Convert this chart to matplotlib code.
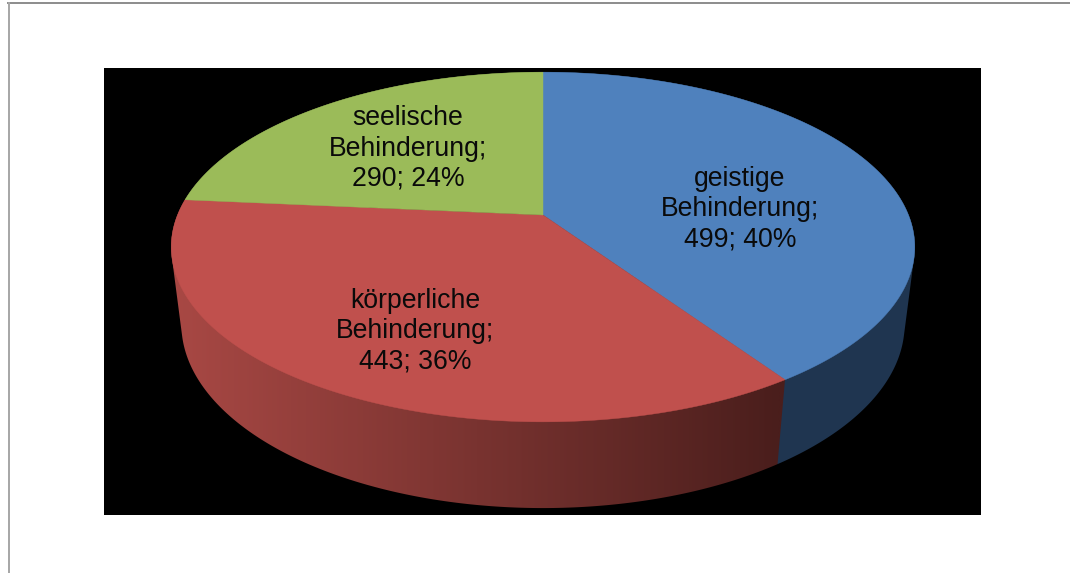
import numpy as np
import matplotlib
matplotlib.use("Agg")
import matplotlib.pyplot as plt
from matplotlib.lines import Line2D
from matplotlib.patches import Polygon
from matplotlib.colors import LinearSegmentedColormap

plt.rcParams['font.family'] = ['Liberation Sans', 'DejaVu Sans']

categories = ["geistige\nBehinderung;", "körperliche\nBehinderung;", "seelische\nBehinderung;"]
values = [499, 443, 290]
percents = [40, 36, 24]
top_colors = ["#4F81BD", "#C0504D", "#9BBB59"]
wall_colors = ["#1F3550", "#A84844", "#5A6E34"]
wall_dark = ["#1F3550", "#4A1E1C", "#5A6E34"]
label_centres = [(740, 209.5), (415, 331.5), (408, 148.5)]

W, H = 1070, 573
CX, CY = 543.0, 215.0
A, B, K = 365.5, 169.0, 0.183
D, M = 78.4, 0.02716


def project(theta, depth=0.0):
    u = np.sin(theta)
    v = -np.cos(theta)
    w = 1 - K * v + M * depth
    return CX + A * u / w, CY + (B * v + D * depth) / w


def convex_hull(points):
    pts = sorted(set(map(tuple, points)))

    def half(seq):
        out = []
        for p in seq:
            while len(out) >= 2 and ((out[-1][0] - out[-2][0]) * (p[1] - out[-2][1])
                                     - (out[-1][1] - out[-2][1]) * (p[0] - out[-2][0])) <= 0:
                out.pop()
            out.append(p)
        return out[:-1]

    return np.array(half(pts) + half(pts[::-1]))


fig = plt.figure(figsize=(W / 100, H / 100), dpi=100, facecolor="white")
ax = fig.add_axes([104 / W, 1 - 515 / H, (981 - 104) / W, (515 - 68) / H])
ax.set_facecolor("black")
ax.set_xticks([])
ax.set_yticks([])
for s in ax.spines.values():
    s.set_visible(False)

edges = np.concatenate([[0], np.cumsum(values)]) / np.sum(values) * 2 * np.pi

# side wall: back slice first, then blue, then the red front slice
for i in (2, 0, 1):
    th = np.linspace(edges[i], edges[i + 1], 400)
    xt, yt = project(th)
    xb, yb = project(th, 1)
    outline = convex_hull(np.c_[np.r_[xt, xb], np.r_[yt, yb]])
    if wall_colors[i] == wall_dark[i]:
        ax.add_patch(Polygon(outline, closed=True, facecolor=wall_colors[i],
                             edgecolor="none", zorder=2 + i * 0.1))
    else:
        cmap = LinearSegmentedColormap.from_list("w", [wall_colors[i], wall_dark[i]])
        band = Polygon(outline, closed=True, facecolor="none", edgecolor="none",
                       zorder=2 + i * 0.1)
        ax.add_patch(band)
        shade = np.clip((np.linspace(104, 981, 512) - 175) / (780 - 175), 0, 1)
        im = ax.imshow(shade[None, :], cmap=cmap, vmin=0, vmax=1, aspect="auto",
                       extent=(104, 981, 515, 68), zorder=2 + i * 0.1,
                       interpolation="bilinear")
        im.set_clip_path(band)

# top surface
for i in range(len(values)):
    th = np.linspace(edges[i], edges[i + 1], 400)
    xs, ys = project(th)
    ax.fill(np.r_[CX, xs], np.r_[CY, ys], color=top_colors[i], lw=0.3, zorder=3)

ax.set_xlim(104, 981)
ax.set_ylim(515, 68)

# labels
for cat, val, pct, (lx, ly) in zip(categories, values, percents, label_centres):
    ax.text(lx, ly, f"{cat}\n{val}; {pct}%", ha="center", va="center",
            fontsize=19.2, color="#0a0a0a", linespacing=1.22, zorder=5)

# page frame
fig.add_artist(Line2D([8 / W, 1], [1 - 2.5 / H, 1 - 2.5 / H], color="#8c8c8c", lw=1.4))
fig.add_artist(Line2D([9 / W, 9 / W], [0, 1 - 2.5 / H], color="#a6a6a6", lw=1.4))

fig.savefig("out.png", dpi=100)
